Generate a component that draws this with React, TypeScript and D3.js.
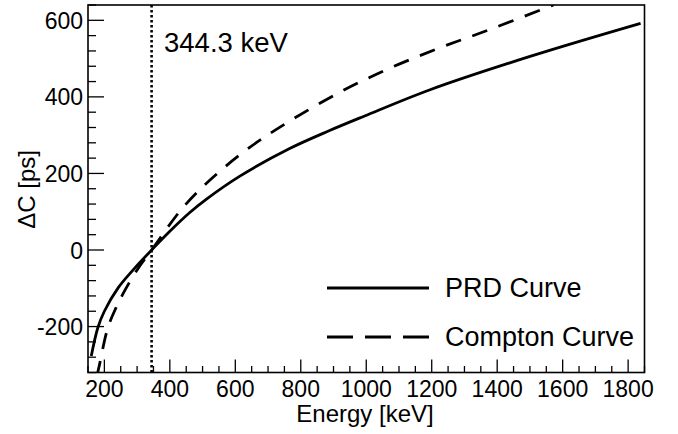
import React, { useEffect, useRef } from "react";
import * as d3 from "d3";

// values
const prdEnergy = [160, 180, 200, 242, 290, 344.3, 400, 461, 512, 614, 766, 888, 995, 1193, 1498, 1838];
const prdDelta = [-277, -203, -160, -99, -50, 0, 49, 98, 133, 193, 265, 312, 350, 418, 505, 592];

const comptonEnergy = [177, 185, 210, 235, 263, 300, 344.3, 441, 532, 644, 761, 919, 1072, 1224, 1365, 1572];
const comptonDelta = [-330, -300, -205, -152, -105, -52, 0, 112, 190, 268, 334, 412, 475, 528, 572, 640];

const xTicks = [200, 400, 600, 800, 1000, 1200, 1400, 1600, 1800];
const yTicks = [-200, 0, 200, 400, 600];
const markerEnergy = 344.3;
const legendLabels = ["PRD Curve", "Compton Curve"];

const W = 678;
const H = 434;
const FONT = "'Liberation Sans', Arial, Helvetica, sans-serif";

const App = () => {
  const ref = useRef<SVGSVGElement>(null);

  useEffect(() => {
    const svg = d3.select(ref.current);
    svg.selectAll("*").remove();

    const left = 88, right = 644.5, top = 5, bottom = 372.5;

    const x = d3.scaleLinear().domain([150, 1850]).range([left, right]);
    const y = d3.scaleLinear().domain([-320, 640]).range([bottom, top]);

    svg.append("rect").attr("width", W).attr("height", H).attr("fill", "white");

    svg.append("defs").append("clipPath").attr("id", "plotclip")
      .append("rect")
      .attr("x", left).attr("y", top)
      .attr("width", right - left).attr("height", bottom - top);

    const line = d3.line<[number, number]>()
      .x(d => x(d[0]))
      .y(d => y(d[1]))
      .curve(d3.curveCatmullRom.alpha(0.5));

    const prd = prdEnergy.map((e, i) => [e, prdDelta[i]] as [number, number]);
    const compton = comptonEnergy.map((e, i) => [e, comptonDelta[i]] as [number, number]);

    const plot = svg.append("g").attr("clip-path", "url(#plotclip)");

    // marker line at 344.3 keV
    plot.append("line")
      .attr("x1", x(markerEnergy)).attr("x2", x(markerEnergy))
      .attr("y1", top).attr("y2", bottom)
      .attr("stroke", "black")
      .attr("stroke-width", 2.6)
      .attr("stroke-dasharray", "2.5 2.5");

    plot.append("path")
      .attr("d", line(prd))
      .attr("fill", "none")
      .attr("stroke", "black")
      .attr("stroke-width", 2.8);

    plot.append("path")
      .attr("d", line(compton))
      .attr("fill", "none")
      .attr("stroke", "black")
      .attr("stroke-width", 2.8)
      .attr("stroke-dasharray", "16 12");

    // frame
    svg.append("rect")
      .attr("x", left).attr("y", top)
      .attr("width", right - left).attr("height", bottom - top)
      .attr("fill", "none")
      .attr("stroke", "black")
      .attr("stroke-width", 1.6);

    // x ticks
    const xMinor = d3.range(150, 1851, 50);
    svg.append("g").selectAll("line")
      .data(xMinor)
      .join("line")
      .attr("x1", d => x(d)).attr("x2", d => x(d))
      .attr("y1", bottom)
      .attr("y2", d => bottom - (d % 200 === 0 ? 13 : 6.5))
      .attr("stroke", "black")
      .attr("stroke-width", 1.3);

    svg.append("g").selectAll("text")
      .data(xTicks)
      .join("text")
      .attr("x", d => x(d))
      .attr("y", 397)
      .attr("text-anchor", "middle")
      .attr("font-family", FONT)
      .attr("font-size", 23)
      .text(d => d);

    // y ticks
    const yMinor = d3.range(-320, 641, 40);
    svg.append("g").selectAll("line")
      .data(yMinor)
      .join("line")
      .attr("y1", d => y(d)).attr("y2", d => y(d))
      .attr("x1", left)
      .attr("x2", d => left + (d % 200 === 0 ? 16 : 8))
      .attr("stroke", "black")
      .attr("stroke-width", 1.3);

    svg.append("g").selectAll("text")
      .data(yTicks)
      .join("text")
      .attr("x", 83)
      .attr("y", d => y(d) + 8.5)
      .attr("text-anchor", "end")
      .attr("font-family", FONT)
      .attr("font-size", 23)
      .text(d => d);

    // axis titles
    svg.append("text")
      .attr("x", 365).attr("y", 422)
      .attr("text-anchor", "middle")
      .attr("font-family", FONT)
      .attr("font-size", 24)
      .text("Energy [keV]");

    svg.append("text")
      .attr("transform", "translate(35,150) rotate(-90)")
      .attr("text-anchor", "end")
      .attr("font-family", FONT)
      .attr("font-size", 24)
      .text("\u0394C [ps]");

    // marker label
    svg.append("text")
      .attr("x", 164).attr("y", 52)
      .attr("font-family", FONT)
      .attr("font-size", 27.5)
      .text(`${markerEnergy} keV`);

    // legend
    const legend = svg.append("g");
    const rows = [
      { label: legendLabels[0], ly: 288, ty: 297, dash: null },
      { label: legendLabels[1], ly: 337, ty: 346, dash: "26 12" },
    ];
    rows.forEach(r => {
      legend.append("line")
        .attr("x1", 327).attr("x2", 429)
        .attr("y1", r.ly).attr("y2", r.ly)
        .attr("stroke", "black")
        .attr("stroke-width", 2.8)
        .attr("stroke-dasharray", r.dash);
      legend.append("text")
        .attr("x", 445).attr("y", r.ty)
        .attr("font-family", FONT)
        .attr("font-size", 27)
        .text(r.label);
    });
  }, []);

  return (
    <svg
      ref={ref}
      width={W}
      height={H}
      style={{ position: "absolute", left: 0, top: 0, display: "block" }}
    />
  );
};

export default App;
